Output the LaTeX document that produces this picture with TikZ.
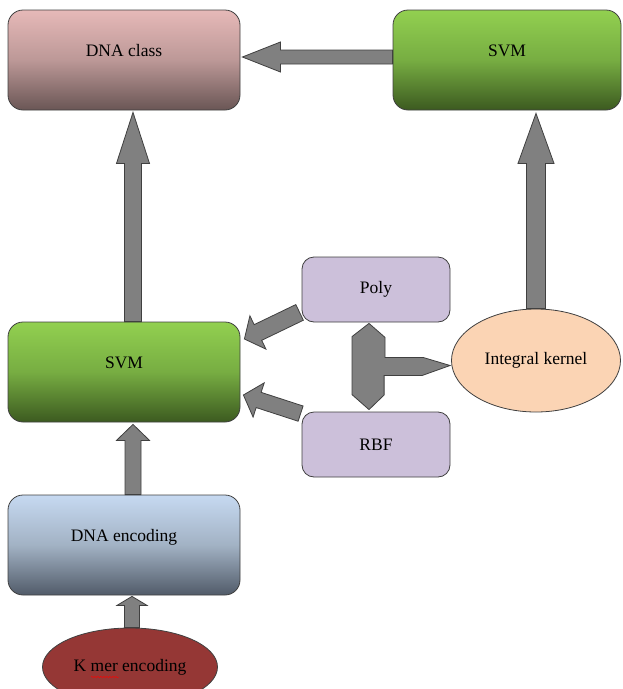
\documentclass[tikz,border=0pt]{standalone}
\usepackage{fontspec}
\setmainfont{Liberation Serif}
\usetikzlibrary{shapes.geometric,calc,decorations.pathmorphing}

\definecolor{edgegray}{HTML}{404040}
\definecolor{arrowgray}{HTML}{808080}
\definecolor{pinktop}{HTML}{E6B9B8}
\definecolor{pinkmid}{HTML}{BC9897}
\definecolor{pinkbot}{HTML}{6A5655}
\definecolor{greentop}{HTML}{92D050}
\definecolor{greenmid}{HTML}{77AD42}
\definecolor{greenbot}{HTML}{3C5A20}
\definecolor{bluetop}{HTML}{C6D9F1}
\definecolor{bluemid}{HTML}{A2B2C4}
\definecolor{bluebot}{HTML}{515B69}
\definecolor{lavender}{HTML}{CCC0DA}
\definecolor{peach}{HTML}{FBD4B4}
\definecolor{kmerred}{HTML}{953735}

\tikzset{
	every node/.style={font=\fontsize{17.5}{20}\selectfont},
	box/.style={draw=edgegray, line width=0.8pt, rounded corners=15, minimum width=232, minimum height=100, text height=12pt, text depth=20pt},
	kernbox/.style={draw=edgegray, line width=0.8pt, rounded corners=12, fill=lavender, minimum width=148, minimum height=65},
	oval/.style={ellipse, draw=edgegray, line width=0.8pt, inner sep=0pt},
	fat/.style={draw=edgegray, fill=arrowgray, line width=0.8pt, line join=miter}
}

\newcommand{\fatarrow}[5]{%
	\draw[fat] let \p1=(#1), \p2=(#2), \n1={atan2(\y2-\y1,\x2-\x1)}, \n2={veclen(\x2-\x1,\y2-\y1)} in
		($(\p1)+({\n1+90}:#3pt)$)
		-- ($(\p1)+(\n1:{\n2-#5pt})+({\n1+90}:#3pt)$)
		-- ($(\p1)+(\n1:{\n2-#5pt})+({\n1+90}:#4pt)$)
		-- (\p2)
		-- ($(\p1)+(\n1:{\n2-#5pt})+({\n1-90}:#4pt)$)
		-- ($(\p1)+(\n1:{\n2-#5pt})+({\n1-90}:#3pt)$)
		-- ($(\p1)+({\n1-90}:#3pt)$) -- cycle;}

\begin{document}
\begin{tikzpicture}[x=1pt, y=-1pt]
	\useasboundingbox (0,0) rectangle (622,689);

	\node[box, top color=pinktop, bottom color=pinkbot, middle color=pinkmid] (dnaclass) at (124,60) {DNA class};
	\node[box, top color=greentop, bottom color=greenbot, middle color=greenmid, minimum width=228] (svmR) at (507,60) {SVM};
	\node[box, top color=greentop, bottom color=greenbot, middle color=greenmid] (svmL) at (124,372) {SVM};
	\node[box, top color=bluetop, bottom color=bluebot, middle color=bluemid] (enc) at (124,545) {DNA encoding};
	\node[kernbox] (poly) at (376,289.5) {Poly};
	\node[kernbox] (rbf) at (376,444.5) {RBF};
	\node[oval, fill=peach, minimum width=169, minimum height=103] (kern) at (536,360.5) {Integral kernel};
	\node[oval, fill=kmerred, minimum width=175, minimum height=78] (kmer) at (130,667) {K mer encoding};

	\fatarrow{$(svmR.west)+(0,-3)$}{$(dnaclass.east)+(2,-3)$}{7}{15}{38}
	\fatarrow{$(svmL.north)+(9,0)$}{$(dnaclass.south)+(9,2)$}{8.5}{16.5}{51}
	\fatarrow{kern.north}{$(kern.north |- svmR.south)+(0,3)$}{9.5}{18}{50}
	\fatarrow{$(enc.north)+(9,0)$}{$(svmL.south)+(9,2)$}{8}{16.5}{16}
	\fatarrow{$(kmer.north)+(2,0)$}{$(enc.south)+(8,1)$}{7.5}{15}{9}
	\fatarrow{$(poly.south west)+(-2,-10)$}{$(svmL.east)+(4,-33)$}{8.7}{18.5}{15}
	\fatarrow{$(rbf.north west)+(-1,2)$}{$(svmL.east)+(3,23)$}{8}{18}{16}

	\draw[fat] ($(poly.south)+(-7,1)$) -- ++(16,14) -- ++(0,20) -- ++(38,0)
		-- ($(kern.west)+(-1,5)$) -- ++(-28,10) -- ++(-38,0) -- ++(0,19.5)
		-- ($(rbf.north)+(-7,-2)$) -- ++(-17,-15) -- ++(0,-58) -- cycle;

	\draw[red, decorate, decoration={snake, amplitude=0.7pt, segment length=3pt}] ($(kmer.center)+(-39,10)$) -- ++(28,0);
\end{tikzpicture}
\end{document}
